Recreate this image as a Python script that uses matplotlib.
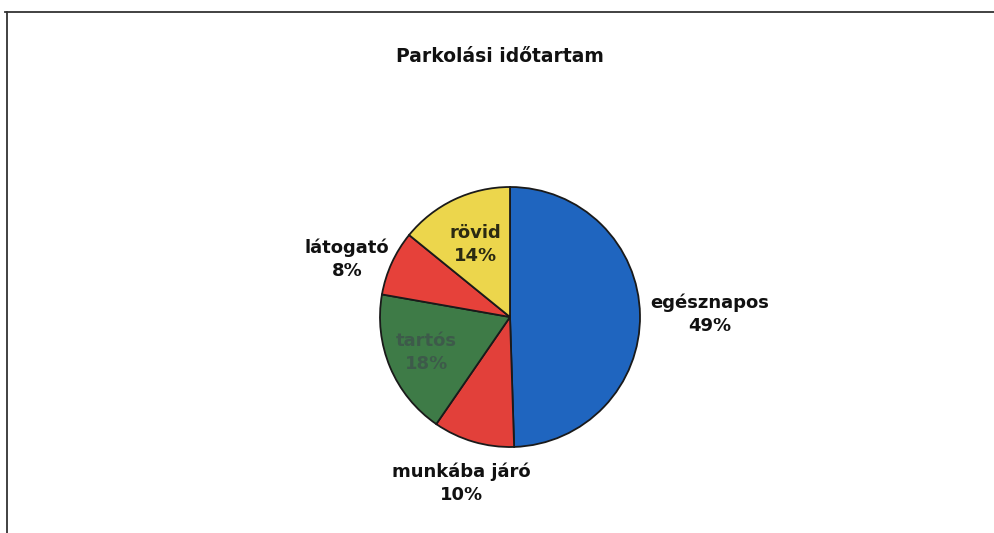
import numpy as np
import matplotlib
matplotlib.use("Agg")
import matplotlib.pyplot as plt
from matplotlib.lines import Line2D

kategoriak = ["egésznapos", "munkába járó", "tartós", "látogató", "rövid"]
szazalek = [49, 10, 18, 8, 14]
szinek = ["#1f65bf", "#e2403a", "#3e7b47", "#e6413a", "#ecd64c"]
cimke_szin = ["#111111", "#111111", "#3d5a4a", "#111111", "#2b2a12"]
cimke_tav = [1.54, 1.33, 0.70, 1.33, 0.62]
cimke_szog = [0, 0, 0, 5, 0]  # fokban, a szelet kozepehez kepest

plt.rcParams["font.family"] = ["DejaVu Sans"]

fig = plt.figure(figsize=(9.95, 5.33), dpi=100)
W, H = 995, 533

# pite helye pixelben: kozeppont (510, 317), sugar 130
cx, cy, r = 510, 317, 130
ax = fig.add_axes([(cx - r) / W, (H - cy - r) / H, 2 * r / W, 2 * r / H])

wedges, _ = ax.pie(szazalek, colors=szinek, startangle=90, counterclock=False,
                   radius=1, wedgeprops=dict(edgecolor="#1a1a1a", linewidth=1.3))
ax.set_xlim(-1, 1)
ax.set_ylim(-1, 1)
ax.axis("off")

for w, nev, p, d, s, c in zip(wedges, kategoriak, szazalek, cimke_tav, cimke_szog, cimke_szin):
    ang = np.deg2rad((w.theta1 + w.theta2) / 2 + s)
    ax.text(d * np.cos(ang), d * np.sin(ang), f"{nev}\n{p}%", ha="center", va="center",
            fontsize=13, fontweight="bold", color=c, linespacing=1.35, clip_on=False)

fig.text(500 / W, 1 - 57 / H, "Parkolási időtartam", ha="center", va="center",
         fontsize=13.5, fontweight="bold", color="#111111")

# keret a szkennelt kepen
fig.add_artist(Line2D([5 / W, 1], [1 - 12 / H, 1 - 12 / H], transform=fig.transFigure,
                      color="#333333", linewidth=1.3))
fig.add_artist(Line2D([7 / W, 7 / W], [0, 1 - 12 / H], transform=fig.transFigure,
                      color="#333333", linewidth=1.3))

plt.savefig("out.png", dpi=100)
